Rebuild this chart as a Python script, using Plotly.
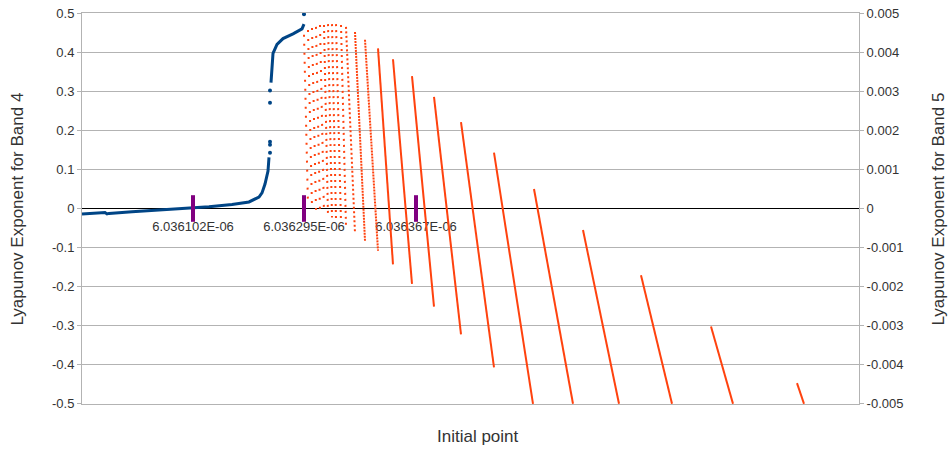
import plotly.graph_objects as go

# ---------------- data (x = sample index along "Initial point") ----------------
# Band 4 (left axis) - continuous part before the jump
band4_idx_a = [0, 23, 25, 27, 50, 67, 83, 110, 127, 150, 167, 177, 180, 183, 186, 187]
band4_val_a = [-0.0143, -0.0105, -0.0140, -0.0126, -0.0084, -0.0059, -0.0025, 0.0,
               0.0042, 0.0100, 0.0168, 0.0293, 0.0400, 0.0628, 0.096, 0.131]
# Band 4 - continuous part after the jump
band4_idx_b = [189, 190, 191, 195, 201, 211, 220, 222]
band4_val_b = [0.322, 0.372, 0.397, 0.420, 0.435, 0.447, 0.460, 0.472]
# Band 4 - isolated points
band4_idx_c = [188, 188, 188, 188, 188, 222]
band4_val_c = [0.143, 0.163, 0.171, 0.271, 0.302, 0.497]

# Band 5 (right axis) - sawtooth teeth: start index/top value, end index/bottom value
band5_start = [222, 226, 230, 234, 238, 242, 246, 250, 254, 259, 264,
               273, 283, 296, 311, 330, 352, 379, 412, 452, 501, 559, 629, 715]
band5_top = [0.00445, 0.00457, 0.00462, 0.00465, 0.00470, 0.00470, 0.00472, 0.00472,
             0.00472, 0.00470, 0.00465,
             0.00452, 0.00432, 0.00410, 0.00382, 0.00339, 0.00286, 0.00221, 0.00143,
             0.00050, -0.00055, -0.00171, -0.00302, -0.00447]
band5_end = [226, 230, 234, 238, 242, 246, 250, 254, 259, 264, 273,
             283, 296, 311, 330, 352, 379, 412, 451, 491, 537, 590, 651, 722]
band5_bottom = [0.00008, 0.00003, -0.00003, -0.00008, -0.00013, -0.00018, -0.00023,
                -0.00028, -0.00035, -0.00045, -0.00063,
                -0.00083, -0.00108, -0.00143, -0.00193, -0.00251, -0.00322, -0.00407,
                -0.005, -0.005, -0.005, -0.005, -0.005, -0.005]

# Marked initial points
mark_idx = [111, 222, 334]
mark_val = [0.0, 0.0, 0.0]
mark_labels = ["6.036102E-06", "6.036295E-06", "6.036367E-06"]

# Axis ticks
left_tickvals = [-0.5, -0.4, -0.3, -0.2, -0.1, 0, 0.1, 0.2, 0.3, 0.4, 0.5]
left_ticktext = ["-0.5", "-0.4", "-0.3", "-0.2", "-0.1", "0", "0.1", "0.2", "0.3", "0.4", "0.5"]
right_tickvals = [-0.005, -0.004, -0.003, -0.002, -0.001, 0, 0.001, 0.002, 0.003, 0.004, 0.005]
right_ticktext = ["-0.005", "-0.004", "-0.003", "-0.002", "-0.001", "0",
                  "0.001", "0.002", "0.003", "0.004", "0.005"]

BLUE = "#004586"
ORANGE = "#ff420e"
PURPLE = "#800080"
GRID = "#b3b3b3"
TXT = "#333333"
FONT = "Liberation Sans"

fig = go.Figure()

# Band 5 teeth, grouped by how densely sampled they look
groups = [
    (0, 5, "2px,7px"),
    (5, 10, "2px,4px"),
    (10, 11, "2px,2.5px"),
    (11, 13, "2px,1px"),
    (13, len(band5_start), "solid"),
]
for g0, g1, dash in groups:
    xs, ys = [], []
    for i in range(g0, g1):
        xs += [band5_start[i], band5_end[i], None]
        ys += [band5_top[i], band5_bottom[i], None]
    fig.add_trace(go.Scatter(x=xs, y=ys, yaxis="y2", mode="lines",
                             line=dict(color=ORANGE, width=2, dash=dash),
                             hoverinfo="skip", showlegend=False))

# Band 4
fig.add_trace(go.Scatter(x=band4_idx_a + [None] + band4_idx_b,
                         y=band4_val_a + [None] + band4_val_b,
                         mode="lines", line=dict(color=BLUE, width=3),
                         showlegend=False))
fig.add_trace(go.Scatter(x=band4_idx_c, y=band4_val_c, mode="markers",
                         marker=dict(color=BLUE, size=4), showlegend=False))

# Marked points
fig.add_trace(go.Scatter(x=mark_idx, y=mark_val, mode="markers+text",
                         marker=dict(symbol="line-ns", size=19,
                                     line=dict(color=PURPLE, width=4)),
                         text=mark_labels, textposition="bottom center",
                         textfont=dict(family=FONT, size=13, color=TXT),
                         showlegend=False))

fig.update_layout(
    width=950, height=452,
    margin=dict(l=82, r=91, t=6, b=48),
    plot_bgcolor="white", paper_bgcolor="white",
    font=dict(family=FONT, size=13, color=TXT),
    showlegend=False,
    xaxis=dict(range=[0, 777], showgrid=False, zeroline=False,
               showline=True, mirror=True, linecolor=GRID, linewidth=1,
               showticklabels=False, ticks=""),
    yaxis=dict(range=[-0.5005, 0.5005], tickvals=left_tickvals, ticktext=left_ticktext,
               showgrid=True, gridcolor=GRID, gridwidth=1,
               zeroline=True, zerolinecolor="black", zerolinewidth=1,
               showline=True, linecolor=GRID, linewidth=1,
               ticks="outside", ticklen=4, tickcolor=GRID,
               ticklabeloverflow="allow",
               tickfont=dict(family=FONT, size=13, color=TXT)),
    yaxis2=dict(range=[-0.005005, 0.005005], tickvals=right_tickvals, ticktext=right_ticktext,
                overlaying="y", side="right", showgrid=False, zeroline=False,
                showline=True, linecolor=GRID, linewidth=1,
                ticks="outside", ticklen=4, tickcolor=GRID,
                ticklabeloverflow="allow",
                tickfont=dict(family=FONT, size=13, color=TXT)),
    annotations=[
        dict(text="Lyapunov Exponent for Band 4", xref="paper", yref="paper",
             x=(17 - 82) / 777, y=(404 - 206) / 398, textangle=-90,
             showarrow=False, xanchor="center", yanchor="middle",
             font=dict(family=FONT, size=17, color=TXT)),
        dict(text="Lyapunov Exponent for Band 5", xref="paper", yref="paper",
             x=(938 - 82) / 777, y=(404 - 206) / 398, textangle=-90,
             showarrow=False, xanchor="center", yanchor="middle",
             font=dict(family=FONT, size=17, color=TXT)),
        dict(text="Initial point", xref="paper", yref="paper",
             x=(478 - 82) / 777, y=(404 - 437) / 398,
             showarrow=False, xanchor="center", yanchor="middle",
             font=dict(family=FONT, size=17, color=TXT)),
    ],
)

fig.write_html("out.html", config={"displayModeBar": False},
               post_script="document.body.style.margin='0';document.body.style.overflow='hidden';")
